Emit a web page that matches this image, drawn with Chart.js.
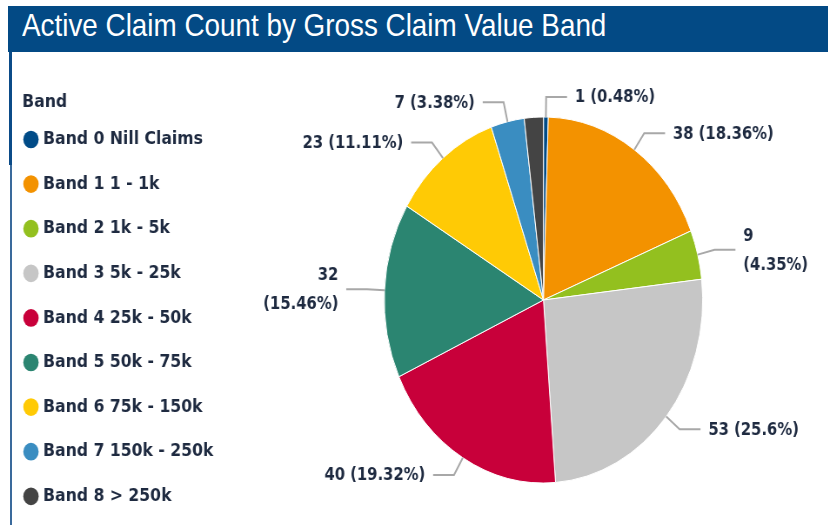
<!DOCTYPE html>
<html>
<head>
<meta charset="utf-8">
<script src="https://cdn.jsdelivr.net/npm/chart.js@4.4.1/dist/chart.umd.min.js"></script>
<style>
  html, body { margin: 0; padding: 0; background: #fff; }
  body { width: 828px; height: 525px; overflow: hidden; position: relative; }
  #bar { position: absolute; left: 8px; top: 6px; right: 0; height: 46px; background: #034a85; }
  #title { position: absolute; left: 22px; top: 7px; line-height: 46px; font: 32px "Liberation Sans", Arial, sans-serif; color: #fff; white-space: nowrap; transform: scaleX(0.87); transform-origin: 0 0; }
  .edge { position: absolute; background: #0b4b88; }
  #wrap { position: absolute; left: 0; top: 55px; width: 1000px; height: 490px; transform: scaleX(0.87); transform-origin: 0 0; }
</style>
</head>
<body>
<div id="bar"></div>
<div id="title">Active Claim Count by Gross Claim Value Band</div>
<div class="edge" style="left:9px;top:52px;width:3px;height:113px"></div>
<div class="edge" style="left:10px;top:165px;width:2px;height:360px;background:#3a6a9c"></div>
<div id="wrap"><canvas id="pie" width="1000" height="490"></canvas></div>
<script>
const bands = [
  'Band 0 Nill Claims', 'Band 1 1 - 1k', 'Band 2 1k - 5k', 'Band 3 5k - 25k',
  'Band 4 25k - 50k', 'Band 5 50k - 75k', 'Band 6 75k - 150k', 'Band 7 150k - 250k',
  'Band 8 > 250k'
];
const counts = [1, 38, 9, 53, 40, 32, 23, 7, 4];
const colors = ['#004b87', '#f39200', '#93c01f', '#c6c6c6', '#c8003a', '#2b8571', '#ffca05', '#3a8dc1', '#444444'];

const textColor = '#1e2a40';
const baseGen = (Chart.overrides.pie || Chart.overrides.doughnut).plugins.legend.labels.generateLabels;

// power bi style labels: elbow leader line, wrapped when the slice points sideways
const outsideLabels = {
  id: 'outsideLabels',
  afterDatasetsDraw(chart) {
    const meta = chart.getDatasetMeta(0);
    const ctx = chart.ctx;
    const total = counts.reduce((a, b) => a + b, 0);
    const placed = [];
    ctx.save();
    ctx.font = 'bold 17px "DejaVu Sans"';
    ctx.textBaseline = 'middle';
    meta.data.forEach((arc, i) => {
      const { x, y, startAngle, endAngle, outerRadius } =
        arc.getProps(['x', 'y', 'startAngle', 'endAngle', 'outerRadius'], true);
      const mid = (startAngle + endAngle) / 2;
      const cos = Math.cos(mid), sin = Math.sin(mid);
      const side = cos >= 0 ? 1 : -1;
      const x0 = x + outerRadius * cos, y0 = y + outerRadius * sin;
      const x1 = x + (outerRadius + 20) * cos, y1 = y + (outerRadius + 20) * sin;
      const x2 = x1 + side * 24;
      const tx = x2 + side * 9;
      const pct = parseFloat((counts[i] / total * 100).toFixed(2));
      const lines = Math.abs(cos) > 0.9
        ? [String(counts[i]), '(' + pct + '%)']
        : [counts[i] + ' (' + pct + '%)'];
      const lh = 29;
      const w = Math.max(...lines.map(l => ctx.measureText(l).width));
      const h = 20 + (lines.length - 1) * lh;
      const box = { l: side > 0 ? tx : tx - w, r: side > 0 ? tx + w : tx, t: y1 - h / 2, b: y1 + h / 2 };
      if (placed.some(p => box.l < p.r && box.r > p.l && box.t < p.b && box.b > p.t)) return;
      placed.push(box);

      ctx.strokeStyle = '#a8a8a8';
      ctx.lineWidth = 2;
      ctx.beginPath();
      ctx.moveTo(x0, y0);
      ctx.lineTo(x1, y1);
      ctx.lineTo(x2, y1);
      ctx.stroke();

      ctx.fillStyle = textColor;
      ctx.textAlign = side > 0 ? 'left' : 'right';
      lines.forEach((l, k) => ctx.fillText(l, tx, y1 + 1 + (k - (lines.length - 1) / 2) * lh));
    });
    ctx.restore();
  }
};

new Chart(document.getElementById('pie'), {
  type: 'pie',
  data: {
    labels: bands,
    datasets: [{
      data: counts,
      backgroundColor: colors,
      borderColor: '#ffffff',
      borderWidth: 1,
      radius: 183
    }]
  },
  options: {
    responsive: false,
    animation: false,
    layout: { padding: { left: 25.6, right: 6, top: 0, bottom: 0 } },
    plugins: {
      tooltip: { enabled: false },
      legend: {
        position: 'left',
        align: 'start',
        title: {
          display: true,
          text: 'Band',
          position: 'start',
          color: textColor,
          font: { family: 'DejaVu Sans', size: 18, weight: 'bold' },
          padding: { top: 38.5, bottom: 10.4 }
        },
        labels: {
          usePointStyle: true,
          pointStyle: 'circle',
          boxWidth: 10,
          boxHeight: 12.5,
          padding: 5,
          color: textColor,
          font: { family: 'DejaVu Sans', size: 18, weight: 'bold', lineHeight: '39.6px' },
          generateLabels(chart) {
            return baseGen(chart).map(it => Object.assign(it, { text: [it.text], lineWidth: 0 }));
          }
        }
      }
    }
  },
  plugins: [outsideLabels]
});
</script>
</body>
</html>
